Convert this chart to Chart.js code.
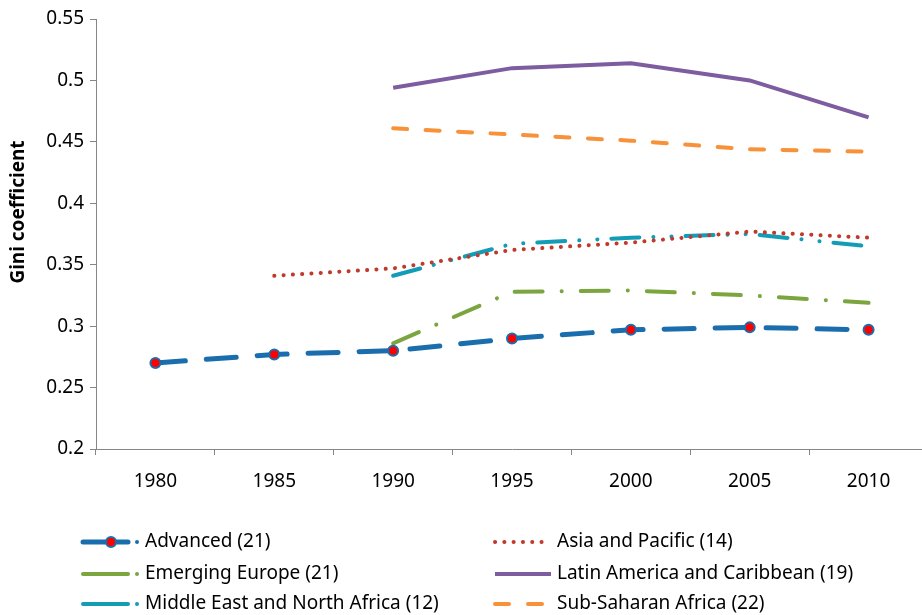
<!DOCTYPE html>
<html>
<head>
<meta charset="utf-8">
<script src="https://cdn.jsdelivr.net/npm/chart.js@4.4.1/dist/chart.umd.min.js"></script>
<style>
  html, body { margin: 0; padding: 0; background: #fff; overflow: hidden; }
  #wrap { width: 922px; height: 615px; overflow: hidden; }
</style>
</head>
<body>
<div id="wrap"><canvas id="giniChart" width="935" height="615"></canvas></div>
<script>
// Anos e valores do coeficiente de Gini por região
const anos = ['1980', '1985', '1990', '1995', '2000', '2005', '2010'];
const yTicks = [0.2, 0.25, 0.3, 0.35, 0.4, 0.45, 0.5, 0.55];

const advanced = [0.270, 0.277, 0.280, 0.290, 0.297, 0.299, 0.297];
const asiaPacific = [null, 0.341, 0.347, 0.362, 0.368, 0.377, 0.372];
const emergingEurope = [null, null, 0.286, 0.328, 0.329, 0.325, 0.319];
const latinAmerica = [null, null, 0.494, 0.510, 0.514, 0.500, 0.470];
const mena = [null, null, 0.341, 0.367, 0.372, 0.375, 0.365];
const subSaharan = [null, null, 0.461, 0.456, 0.451, 0.444, 0.442];

const FONT = '"Noto Sans", "DejaVu Sans", sans-serif';

// Legenda desenhada à mão, em duas colunas
const legendaPlugin = {
    id: 'legenda',
    afterDraw(chart) {
        const ctx = chart.ctx;
        const items = [
            { ds: 0, x: 83, y: 542, w: 45, dot: true, marker: true },
            { ds: 1, x: 495, y: 542, w: 55 },
            { ds: 2, x: 83, y: 574, w: 45, dot: true },
            { ds: 3, x: 495, y: 574, w: 56 },
            { ds: 4, x: 83, y: 604, w: 45, dot: true },
            { ds: 5, x: 495, y: 604, w: 55 }
        ];
        ctx.save();
        items.forEach(it => {
            const ds = chart.data.datasets[it.ds];
            ctx.strokeStyle = ds.borderColor;
            ctx.lineWidth = ds.borderWidth;
            ctx.lineCap = ds.borderCapStyle || 'butt';
            if (it.dot) {
                ctx.setLineDash([]);
            } else {
                ctx.setLineDash(ds.legendDash || []);
            }
            ctx.beginPath();
            ctx.moveTo(it.x, it.y);
            ctx.lineTo(it.x + it.w, it.y);
            ctx.stroke();
            ctx.setLineDash([]);
            if (it.dot) {
                ctx.fillStyle = ds.borderColor;
                ctx.beginPath();
                ctx.arc(it.x + 54, it.y, 2, 0, Math.PI * 2);
                ctx.fill();
            }
            if (it.marker) {
                ctx.fillStyle = ds.pointBackgroundColor;
                ctx.strokeStyle = ds.pointBorderColor;
                ctx.lineWidth = 2;
                ctx.beginPath();
                ctx.arc(it.x + 28, it.y, 5, 0, Math.PI * 2);
                ctx.fill();
                ctx.stroke();
            }
            ctx.fillStyle = '#000';
            ctx.font = '19px ' + FONT;
            ctx.textBaseline = 'middle';
            ctx.textAlign = 'left';
            const tx = it.x < 300 ? 145 : 557;
            ctx.fillText(ds.label, tx, it.y);
        });

        // Título do eixo Y
        ctx.translate(19, 212);
        ctx.rotate(-Math.PI / 2);
        ctx.font = 'bold 19px ' + FONT;
        ctx.textAlign = 'center';
        ctx.textBaseline = 'middle';
        ctx.fillText('Gini coefficient', 0, 0);
        ctx.restore();
    }
};

const ctx = document.getElementById('giniChart').getContext('2d');

new Chart(ctx, {
    type: 'line',
    data: {
        labels: anos,
        datasets: [
            {
                label: 'Advanced (21)',
                data: advanced,
                borderColor: '#1B6EAD',
                borderWidth: 5,
                borderCapStyle: 'round',
                borderDash: [30, 21],
                pointRadius: 5,
                pointBackgroundColor: '#FF0000',
                pointBorderColor: '#1B6EAD',
                pointBorderWidth: 2
            },
            {
                label: 'Asia and Pacific (14)',
                data: asiaPacific,
                borderColor: '#C0392B',
                borderWidth: 4,
                borderCapStyle: 'round',
                borderDash: [0.1, 9.2],
                legendDash: [0.1, 9.2],
                pointRadius: 0
            },
            {
                label: 'Emerging Europe (21)',
                data: emergingEurope,
                borderColor: '#7BA53E',
                borderWidth: 4,
                borderCapStyle: 'round',
                borderDash: [28, 19, 0.1, 19],
                pointRadius: 0
            },
            {
                label: 'Latin America and Caribbean (19)',
                data: latinAmerica,
                borderColor: '#7E5CA0',
                borderWidth: 4,
                pointRadius: 0
            },
            {
                label: 'Middle East and North Africa (12)',
                data: mena,
                borderColor: '#129CB6',
                borderWidth: 4,
                borderCapStyle: 'round',
                borderDash: [28, 14, 0.1, 18, 0.1, 14],
                pointRadius: 0
            },
            {
                label: 'Sub-Saharan Africa (22)',
                data: subSaharan,
                borderColor: '#F7923A',
                borderWidth: 4,
                borderCapStyle: 'round',
                borderDash: [14, 18.5],
                legendDash: [14, 19],
                pointRadius: 0
            }
        ]
    },
    options: {
        responsive: false,
        animation: false,
        spanGaps: false,
        layout: {
            padding: { top: 19, left: 0, right: 0, bottom: 126 }
        },
        scales: {
            x: {
                offset: true,
                grid: {
                    offset: true,
                    drawOnChartArea: false,
                    drawTicks: true,
                    tickLength: 6,
                    color: '#868686'
                },
                border: { color: '#868686', width: 1 },
                ticks: {
                    color: '#000',
                    padding: 15,
                    maxRotation: 0,
                    font: { family: FONT, size: 19 }
                },
                afterFit(scale) { scale.height = 40; }
            },
            y: {
                min: 0.2,
                max: 0.55,
                afterBuildTicks(scale) {
                    scale.ticks = yTicks.map(v => ({ value: v }));
                },
                grid: {
                    drawOnChartArea: false,
                    drawTicks: true,
                    tickLength: 6,
                    color: '#868686'
                },
                border: { color: '#868686', width: 1 },
                ticks: {
                    color: '#000',
                    padding: 6,
                    font: { family: FONT, size: 19 },
                    callback: v => String(Math.round(v * 100) / 100)
                },
                afterFit(scale) { scale.width = 96; }
            }
        },
        plugins: {
            legend: { display: false },
            tooltip: { enabled: false }
        }
    },
    plugins: [legendaPlugin]
});
</script>
</body>
</html>
